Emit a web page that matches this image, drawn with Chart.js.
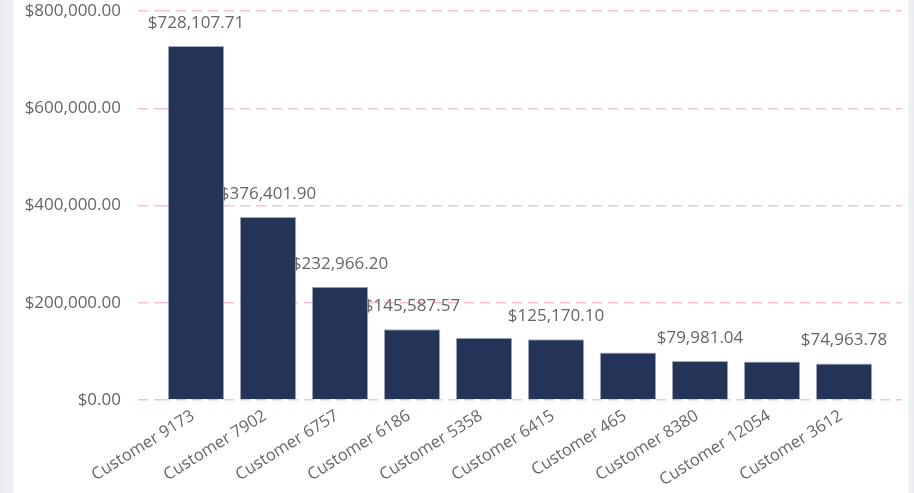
<!DOCTYPE html>
<html>
<head>
<meta charset="utf-8">
<script src="https://cdn.jsdelivr.net/npm/chart.js@4"></script>
<style>
  html, body { margin: 0; padding: 0; }
  body {
    width: 914px; height: 493px; overflow: hidden;
    background: linear-gradient(to right, #e9ebf0 0, #f1f2f5 13px, #fff 14px, #fff 908px, #eceef2 909px, #eceef2 914px);
  }
  #wrap { position: absolute; left: 0; top: 0; width: 914px; height: 493px; }
</style>
</head>
<body>
<div id="wrap"><canvas id="chart" width="914" height="493"></canvas></div>
<script>
// customers sorted by total sales
const customers = ['Customer 9173', 'Customer 7902', 'Customer 6757', 'Customer 6186', 'Customer 5358',
                   'Customer 6415', 'Customer 465', 'Customer 8380', 'Customer 12054', 'Customer 3612'];
const sales = [728107.71, 376401.90, 232966.20, 145587.57, 128100.00,
               125170.10, 97800.00, 79981.04, 79300.00, 74963.78];
const yTicks = [0, 200000, 400000, 600000, 800000];

const money = v => '$' + v.toLocaleString('en-US', {minimumFractionDigits: 2, maximumFractionDigits: 2});
const FONT = '"Open Sans", sans-serif';
const gridPink = '#f7c3ce';

// value labels above bars, skipped when they would overlap one already drawn
const barLabels = {
  id: 'barLabels',
  beforeDatasetsDraw(chart) {
    const ctx = chart.ctx;
    const meta = chart.getDatasetMeta(0);
    ctx.save();
    ctx.font = '17px ' + FONT;
    ctx.fillStyle = '#666';
    ctx.textAlign = 'center';
    ctx.textBaseline = 'middle';
    const drawn = [];
    meta.data.forEach((bar, i) => {
      const txt = money(sales[i]);
      const w = ctx.measureText(txt).width;
      const cy = bar.y - 23;
      const r = {l: bar.x - w / 2, r: bar.x + w / 2, t: cy - 8, b: cy + 8};
      const hit = drawn.some(d => r.l < d.r && r.r > d.l && r.t < d.b && r.b > d.t);
      if (hit) return;
      drawn.push(r);
      ctx.fillText(txt, bar.x, cy);
    });
    ctx.restore();
  }
};

new Chart(document.getElementById('chart').getContext('2d'), {
  type: 'bar',
  data: {
    labels: customers,
    datasets: [{
      data: sales,
      backgroundColor: '#243459',
      borderColor: '#a9afc2',
      borderWidth: 1,
      barPercentage: 0.785,
      categoryPercentage: 1
    }]
  },
  options: {
    responsive: false,
    animation: false,
    layout: {padding: {top: 0, right: 12, left: 0, bottom: 0}},
    plugins: {legend: {display: false}, tooltip: {enabled: false}},
    scales: {
      x: {
        grid: {display: false, drawTicks: false},
        border: {display: false},
        ticks: {
          color: '#666', font: {family: FONT, size: 16.5},
          minRotation: 32, maxRotation: 32, padding: 6, labelOffset: -3, autoSkip: false
        },
        afterFit(s) { s.height = 93; }
      },
      y: {
        min: 0, max: 800000,
        afterBuildTicks(s) { s.ticks = yTicks.map(v => ({value: v})); },
        grid: {color: gridPink, lineWidth: 1.5, tickLength: 22, tickBorderDash: [10, 6]},
        border: {display: false, dash: [10, 6]},
        ticks: {
          color: '#666', font: {family: FONT, size: 17}, padding: 17,
          callback: v => money(v)
        },
        afterFit(s) { s.width = 160; s.paddingTop = 11; s.paddingBottom = 11; }
      },
      y2: {
        position: 'right',
        min: 0, max: 800000,
        afterBuildTicks(s) { s.ticks = yTicks.map(v => ({value: v})); },
        grid: {color: gridPink, lineWidth: 1.5, tickLength: 22, tickBorderDash: [10, 6], drawOnChartArea: false},
        border: {display: false},
        ticks: {display: false},
        afterFit(s) { s.paddingTop = 11; s.paddingBottom = 11; }
      }
    }
  },
  plugins: [barLabels]
});
</script>
</body>
</html>
